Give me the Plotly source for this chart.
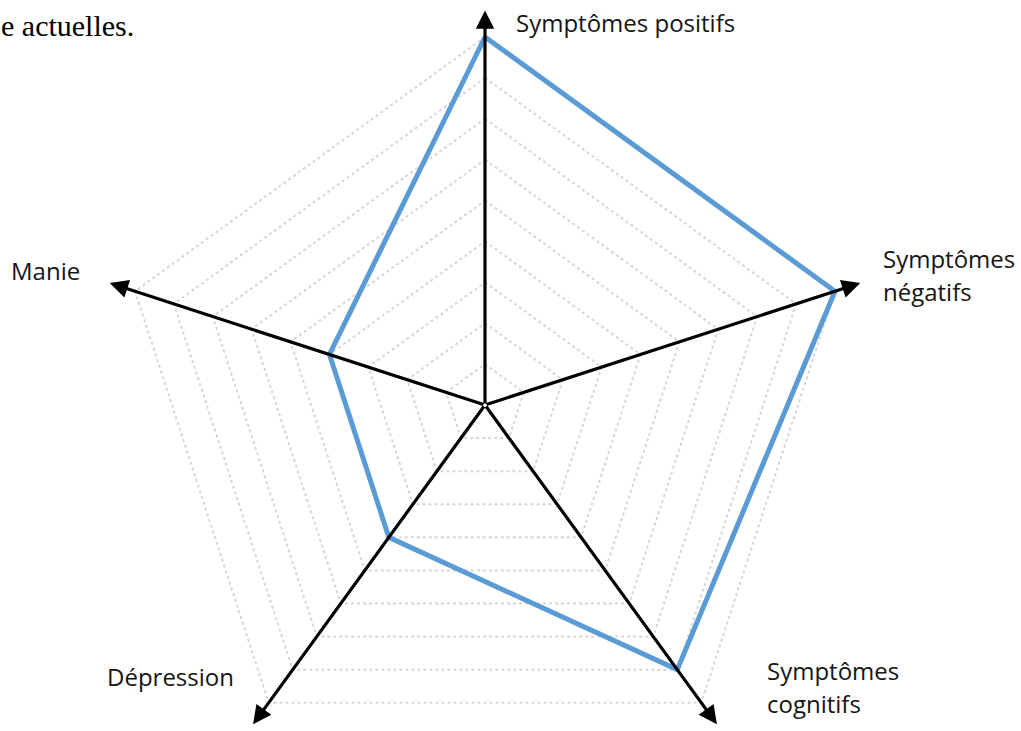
import numpy as np
import plotly.graph_objects as go

categories = ["Symptômes positifs", "Symptômes négatifs", "Symptômes cognitifs", "Dépression", "Manie"]
values = [9, 9, 8, 4, 4]
ring_levels = [1, 2, 3, 4, 5, 6, 7, 8, 9]
arrow_length = 9.65

W, H = 1021, 731
cx, cy = 485, 405          # centre of the radar, pixels from top-left
px_per_unit = 368 / 9

n = len(categories)
theta = 2 * np.pi * np.arange(n) / n      # clockwise from the top
sx, sy = np.sin(theta), np.cos(theta)


def closed(a):
    return np.append(a, a[0])


fig = go.Figure()

# dotted grid rings
for lvl in ring_levels:
    fig.add_trace(go.Scatter(
        x=closed(lvl * sx), y=closed(lvl * sy), mode="lines",
        line=dict(color="#D6D6D6", width=2, dash="dot"),
        hoverinfo="skip", showlegend=False
    ))

# data series
v = np.array(values, dtype=float)
fig.add_trace(go.Scatter(
    x=closed(v * sx), y=closed(v * sy), mode="lines",
    line=dict(color="#5B9BD5", width=5), showlegend=False
))

# axis arrows
for i in range(n):
    fig.add_annotation(
        x=arrow_length * sx[i], y=arrow_length * sy[i], ax=0, ay=0,
        xref="x", yref="y", axref="x", ayref="y", text="",
        showarrow=True, arrowhead=2, arrowsize=1.15, arrowwidth=3.2,
        arrowcolor="black", standoff=0, startstandoff=0
    )

fig.update_layout(
    width=W, height=H,
    margin=dict(l=0, r=0, t=0, b=0),
    paper_bgcolor="white", plot_bgcolor="white",
    xaxis=dict(range=[-cx / px_per_unit, (W - cx) / px_per_unit], visible=False, fixedrange=True),
    yaxis=dict(range=[-(H - cy) / px_per_unit, cy / px_per_unit], visible=False, fixedrange=True),
)

label_pos = [
    ("Symptômes positifs", 514, 22),
    ("Symptômes", 881, 258),
    ("négatifs", 881, 291),
    ("Symptômes", 765, 670),
    ("cognitifs", 765, 703),
    ("Dépression", 105, 676),
    ("Manie", 9, 271),
]
for text, x, y in label_pos:
    fig.add_annotation(
        text=text, x=x / W, y=1 - y / H, xref="paper", yref="paper",
        xanchor="left", yanchor="middle", align="left", showarrow=False,
        font=dict(family="Open Sans", size=24, color="#151515")
    )

fig.add_annotation(
    text="e actuelles.", x=136 / W, y=1 - 26 / H, xref="paper", yref="paper",
    xanchor="right", yanchor="middle", showarrow=False,
    font=dict(family="Liberation Serif", size=30, color="black")
)

fig.write_html("out.html", config={"displayModeBar": False},
               post_script="document.body.style.margin='0';")
